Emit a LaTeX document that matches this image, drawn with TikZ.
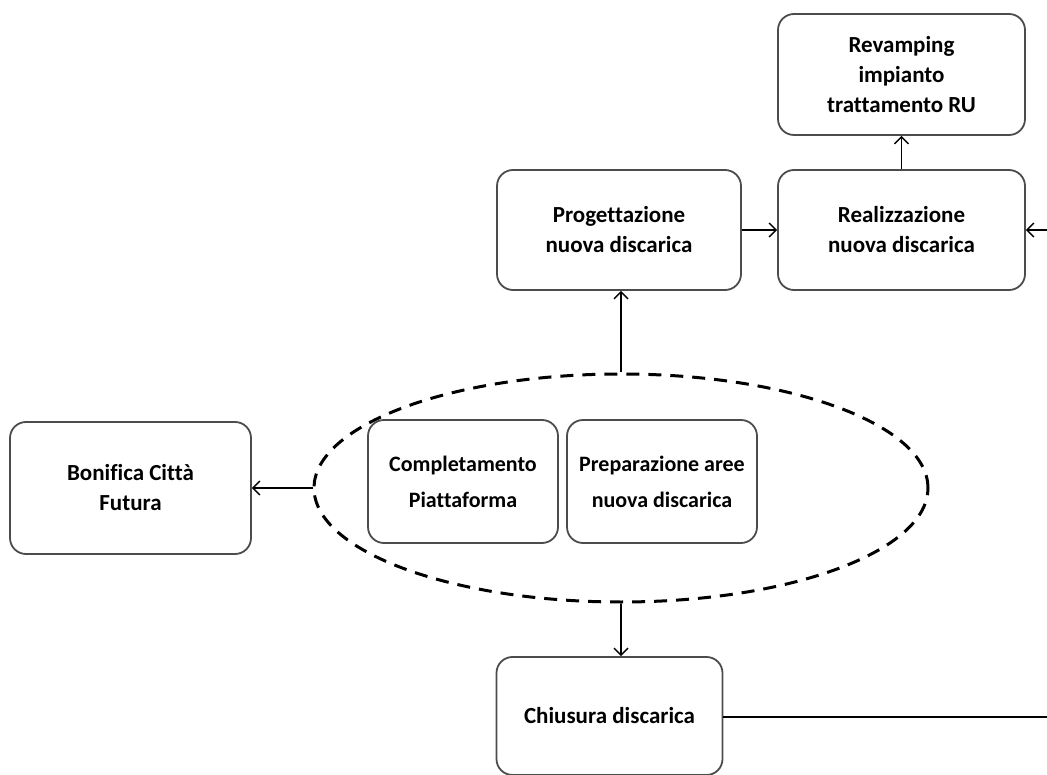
\documentclass[tikz,border=0pt]{standalone}
\usepackage{fontspec}
\setmainfont{Carlito}[Ligatures={NoCommon}]
\usetikzlibrary{shapes.geometric,arrows.meta}
\tikzset{
  box/.style={draw=black!70, line width=1.8pt, rounded corners=16pt, inner sep=0pt, align=center, font=\fontsize{23}{30}\selectfont\bfseries},
  conn/.style={line width=1.4pt, -{Straight Barb[length=7pt,width=14pt,line width=1.4pt]}},
  plain/.style={line width=1.6pt},
  grpstyle/.style={draw=black, ellipse, line width=3pt, dash pattern=on 13pt off 9pt, inner sep=0pt}
}
\begin{document}
\begin{tikzpicture}[x=1pt,y=-1pt]
\useasboundingbox (0,0) rectangle (1047,775);
\node[box, minimum width=247pt, minimum height=121pt] (rev) at (901.5,74.5) {Revamping\\impianto\\trattamento RU};
\node[box, minimum width=247pt, minimum height=120pt] (rea) at (901.5,230) {Realizzazione\\nuova discarica};
\node[box, minimum width=244pt, minimum height=120pt] (pro) at (619,230) {Progettazione\\nuova discarica};
\node[grpstyle, minimum width=614pt, minimum height=228pt] (grp) at (621,488) {};
\node[box, font=\fontsize{22}{36}\selectfont\bfseries, minimum width=190pt, minimum height=123pt] (com) at (463,481.5) {Completamento\\Piattaforma};
\node[box, font=\fontsize{22}{36}\selectfont\bfseries, minimum width=190pt, minimum height=123pt] (pre) at (662,481.5) {Preparazione aree\\nuova discarica};
\node[box, minimum width=241pt, minimum height=132pt] (bon) at (130.5,488) {Bonifica Città\\Futura};
\node[box, minimum width=226pt, minimum height=118pt] (chi) at (609.5,716) {Chiusura discarica};
\coordinate (rin) at (1047,230);
\coordinate (rout) at (1047,717);
\draw[conn] (rea.north) -- (rev.south);
\draw[conn] (pro.east) -- (rea.west);
\draw[conn] (rin) -- (rea.east);
\draw[conn] (grp.north) -- (grp.north |- pro.south);
\draw[conn] (grp.west) -- (bon.east);
\draw[conn] (grp.south) -- (grp.south |- chi.north);
\draw[plain] (chi.east |- rout) -- (rout);
\end{tikzpicture}
\end{document}
